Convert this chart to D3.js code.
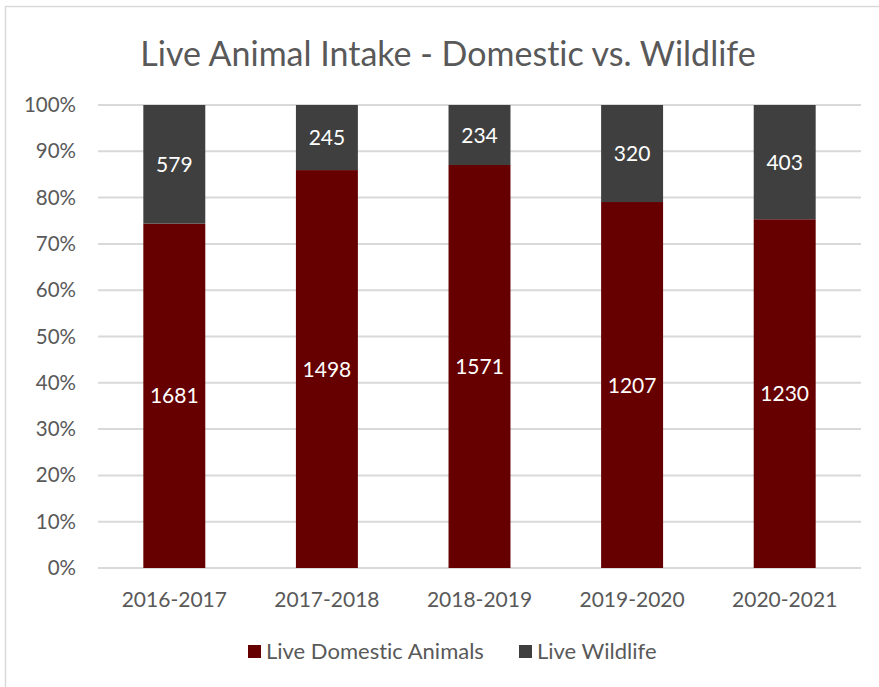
<!DOCTYPE html>
<html>
<head>
<meta charset="utf-8">
<script src="https://cdn.jsdelivr.net/npm/d3@7"></script>
<style>
  html, body { margin: 0; padding: 0; background: #fff; }
  svg { display: block; }
  text { font-family: Lato, "Open Sans", sans-serif; font-variant-ligatures: none; }
</style>
</head>
<body>
<svg id="chart" width="879" height="687"></svg>
<script>
// Fiscal years and live intake counts
const years = ["2016-2017", "2017-2018", "2018-2019", "2019-2020", "2020-2021"];
const domestic = [1681, 1498, 1571, 1207, 1230];
const wildlife = [579, 245, 234, 320, 403];
const seriesNames = ["Live Domestic Animals", "Live Wildlife"];
const seriesColors = ["#660000", "#3f3f3f"];
const yTicks = [0, 0.1, 0.2, 0.3, 0.4, 0.5, 0.6, 0.7, 0.8, 0.9, 1.0];

const svg = d3.select("#chart");
const W = 879, H = 687;
const margin = { left: 98, right: 18, top: 105, bottom: 119 };

// outer chart frame
svg.append("rect")
  .attr("x", 5.5).attr("y", 6.5)
  .attr("width", W + 10).attr("height", H + 10)
  .attr("fill", "#fff").attr("stroke", "#d9d9d9").attr("stroke-width", 1.5);

const x = d3.scaleBand().domain(years)
  .range([margin.left, W - margin.right])
  .paddingInner(0.594).paddingOuter(0.297);
const y = d3.scaleLinear().domain([0, 1]).range([H - margin.bottom, margin.top]);

// gridlines
svg.append("g").selectAll("line").data(yTicks).join("line")
  .attr("x1", margin.left).attr("x2", W - margin.right)
  .attr("y1", d => y(d)).attr("y2", d => y(d))
  .attr("stroke", "#d9d9d9").attr("stroke-width", 2);

// y axis labels
const yAxis = d3.axisLeft(y).tickValues(yTicks).tickFormat(d3.format(".0%")).tickSize(0).tickPadding(22);
const ga = svg.append("g").attr("transform", `translate(${margin.left},0)`).call(yAxis);
ga.select(".domain").remove();
ga.selectAll("text").attr("fill", "#595959").style("font-size", "20.5px")
  .style("font-family", "Lato, 'Open Sans', sans-serif");

// x axis labels
const xAxis = d3.axisBottom(x).tickSize(0).tickPadding(24);
const gx = svg.append("g").attr("transform", `translate(0,${y(0)})`).call(xAxis);
gx.select(".domain").remove();
gx.selectAll("text").attr("fill", "#595959").style("font-size", "21px")
  .style("font-family", "Lato, 'Open Sans', sans-serif");

// stacked shares
const rows = years.map((yr, i) => ({ year: yr, d: domestic[i], w: wildlife[i] }));
const stack = d3.stack().keys(["d", "w"]).offset(d3.stackOffsetExpand);
const layers = stack(rows);

layers.forEach((layer, li) => {
  const g = svg.append("g");
  g.selectAll("rect").data(layer).join("rect")
    .attr("x", d => x(d.data.year))
    .attr("width", x.bandwidth())
    .attr("y", d => y(d[1]))
    .attr("height", d => y(d[0]) - y(d[1]))
    .attr("fill", seriesColors[li]);
  g.selectAll("text").data(layer).join("text")
    .attr("x", d => x(d.data.year) + x.bandwidth() / 2)
    .attr("y", d => (y(d[0]) + y(d[1])) / 2)
    .attr("dy", "0.36em")
    .attr("text-anchor", "middle")
    .attr("fill", "#ffffff")
    .style("font-size", "21px")
    .text(d => d.data[layer.key]);
});

// title
svg.append("text")
  .attr("x", 448).attr("y", 66)
  .attr("text-anchor", "middle")
  .attr("fill", "#595959")
  .style("font-size", "34px")
  .text("Live Animal Intake - Domestic vs. Wildlife");

// legend
const legendItems = [
  { name: seriesNames[0], color: seriesColors[0], x: 248 },
  { name: seriesNames[1], color: seriesColors[1], x: 519 }
];
const lg = svg.append("g");
legendItems.forEach(it => {
  lg.append("rect").attr("x", it.x).attr("y", 645).attr("width", 13).attr("height", 13).attr("fill", it.color);
  lg.append("text").attr("x", it.x + 18).attr("y", 659)
    .attr("fill", "#595959").style("font-size", "22px").text(it.name);
});
</script>
</body>
</html>
